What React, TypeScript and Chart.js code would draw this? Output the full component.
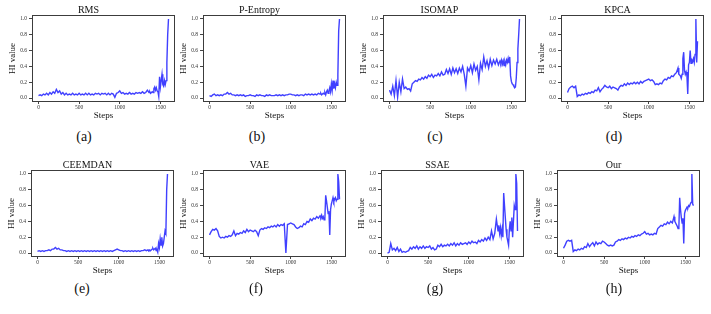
import React, { useEffect, useRef } from "react";
import { Chart, registerables } from "chart.js";

Chart.register(...registerables);

// Sample positions (steps); denser near the end where the curves change fast.
const STEPS = [
  0, 20, 40, 60, 80, 100, 120, 140, 160, 180,
  200, 220, 240, 260, 280, 300, 320, 340, 360, 380,
  400, 420, 440, 460, 480, 500, 520, 540, 560, 580,
  600, 620, 640, 660, 680, 700, 720, 740, 760, 780,
  800, 820, 840, 860, 880, 900, 920, 940, 960, 980,
  1000, 1020, 1040, 1060, 1080, 1100, 1120, 1140, 1160, 1180,
  1200, 1220, 1240, 1260, 1280, 1300, 1320, 1340, 1360,
  1370, 1380, 1390, 1400, 1410, 1420, 1430, 1440, 1450, 1460,
  1470, 1480, 1490, 1500, 1510, 1520, 1530, 1540, 1550, 1560,
  1570, 1580, 1590, 1600,
];

const RMS = [
  0.03, 0.04, 0.03, 0.05, 0.04, 0.06, 0.04, 0.07, 0.05, 0.08,
  0.06, 0.11, 0.07, 0.09, 0.05, 0.07, 0.04, 0.06, 0.04, 0.05,
  0.04, 0.06, 0.04, 0.05, 0.04, 0.06, 0.04, 0.05, 0.04, 0.06,
  0.04, 0.06, 0.04, 0.05, 0.04, 0.06, 0.05, 0.06, 0.04, 0.06,
  0.05, 0.06, 0.04, 0.06, 0.04, 0.06, 0.05, 0.01, 0.06, 0.07,
  0.09, 0.06, 0.07, 0.05, 0.06, 0.05, 0.07, 0.05, 0.06, 0.05,
  0.07, 0.06, 0.07, 0.06, 0.08, 0.06, 0.07, 0.10, 0.07,
  0.08, 0.06, 0.07, 0.08, 0.07, 0.12, 0.14, 0.10, 0.13, 0.09,
  0.08, 0.02, 0.27, 0.14, 0.22, 0.30, 0.17, 0.15, 0.22, 0.17,
  0.22, 0.45, 0.80, 1.0,
];

const P_ENTROPY = [
  0.03, 0.02, 0.04, 0.05, 0.03, 0.04, 0.03, 0.04, 0.03, 0.05,
  0.05, 0.07, 0.05, 0.06, 0.04, 0.04, 0.03, 0.04, 0.03, 0.04,
  0.03, 0.04, 0.02, 0.03, 0.03, 0.04, 0.03, 0.03, 0.02, 0.04,
  0.03, 0.04, 0.03, 0.03, 0.02, 0.04, 0.03, 0.04, 0.03, 0.03,
  0.03, 0.04, 0.03, 0.04, 0.03, 0.04, 0.03, 0.04, 0.04, 0.05,
  0.05, 0.04, 0.04, 0.03, 0.04, 0.03, 0.04, 0.04, 0.03, 0.05,
  0.04, 0.05, 0.04, 0.05, 0.04, 0.05, 0.04, 0.06, 0.05,
  0.06, 0.04, 0.05, 0.06, 0.05, 0.07, 0.04, 0.08, 0.10, 0.06,
  0.09, 0.13, 0.08, 0.18, 0.10, 0.22, 0.12, 0.18, 0.13, 0.20,
  0.16, 0.30, 0.85, 1.0,
];

const ISOMAP = [
  0.10, 0.05, 0.15, 0.03, 0.22, 0.01, 0.20, 0.08, 0.24, 0.12,
  0.14, 0.11, 0.12, 0.09, 0.18, 0.20, 0.22, 0.21, 0.24, 0.23,
  0.26, 0.24, 0.27, 0.25, 0.29, 0.27, 0.30, 0.26, 0.29, 0.28,
  0.31, 0.28, 0.33, 0.29, 0.30, 0.36, 0.31, 0.37, 0.30, 0.38,
  0.32, 0.37, 0.31, 0.38, 0.33, 0.40, 0.30, 0.15, 0.38, 0.34,
  0.41, 0.32, 0.43, 0.35, 0.40, 0.23, 0.44, 0.36, 0.52, 0.40,
  0.47, 0.38, 0.49, 0.41, 0.48, 0.43, 0.49, 0.42, 0.47,
  0.44, 0.48, 0.43, 0.47, 0.41, 0.46, 0.42, 0.48, 0.45, 0.50,
  0.44, 0.52, 0.28, 0.21, 0.18, 0.17, 0.15, 0.13, 0.14, 0.25,
  0.45, 0.62, 0.80, 1.0,
];

const KPCA = [
  0.07, 0.12, 0.14, 0.15, 0.13, 0.15, 0.02, 0.04, 0.03, 0.05,
  0.04, 0.06, 0.05, 0.07, 0.06, 0.08, 0.07, 0.10, 0.09, 0.13,
  0.08, 0.11, 0.13, 0.16, 0.14, 0.13, 0.15, 0.12, 0.14, 0.13,
  0.12, 0.10, 0.14, 0.16, 0.15, 0.18, 0.16, 0.19, 0.17, 0.19,
  0.18, 0.20, 0.18, 0.20, 0.18, 0.21, 0.19, 0.21, 0.22, 0.23,
  0.24, 0.22, 0.23, 0.21, 0.17, 0.18, 0.17, 0.19, 0.18, 0.22,
  0.24, 0.23, 0.26, 0.25, 0.28, 0.27, 0.30, 0.32, 0.38,
  0.30, 0.29, 0.28, 0.25, 0.30, 0.50, 0.58, 0.35, 0.30, 0.33,
  0.28, 0.05, 0.42, 0.45, 0.60, 0.44, 0.48, 0.46, 0.50, 0.45,
  0.55, 1.0, 0.45, 0.72,
];

const CEEMDAN = [
  0.02, 0.03, 0.02, 0.03, 0.02, 0.03, 0.03, 0.04, 0.03, 0.05,
  0.05, 0.07, 0.05, 0.06, 0.04, 0.04, 0.03, 0.03, 0.02, 0.03,
  0.02, 0.03, 0.02, 0.03, 0.02, 0.03, 0.02, 0.03, 0.02, 0.03,
  0.02, 0.03, 0.02, 0.03, 0.02, 0.03, 0.02, 0.03, 0.02, 0.03,
  0.02, 0.03, 0.02, 0.03, 0.02, 0.03, 0.02, 0.03, 0.04, 0.05,
  0.04, 0.03, 0.03, 0.02, 0.03, 0.02, 0.03, 0.02, 0.03, 0.02,
  0.03, 0.02, 0.03, 0.02, 0.03, 0.03, 0.04, 0.03, 0.04,
  0.03, 0.04, 0.03, 0.04, 0.05, 0.06, 0.04, 0.05, 0.06, 0.03,
  0.04, 0.01, 0.12, 0.07, 0.18, 0.10, 0.20, 0.09, 0.12, 0.20,
  0.28, 0.25, 0.80, 1.0,
];

const VAE = [
  0.23, 0.27, 0.30, 0.29, 0.31, 0.28, 0.21, 0.19, 0.20, 0.19,
  0.21, 0.20, 0.22, 0.21, 0.23, 0.28, 0.22, 0.25, 0.24, 0.26,
  0.25, 0.28, 0.26, 0.30, 0.27, 0.29, 0.28, 0.27, 0.29, 0.27,
  0.22, 0.29, 0.31, 0.30, 0.32, 0.31, 0.33, 0.32, 0.34, 0.33,
  0.35, 0.33, 0.36, 0.34, 0.36, 0.35, 0.37, 0.0, 0.36, 0.37,
  0.38, 0.37, 0.36, 0.33, 0.31, 0.32, 0.34, 0.33, 0.37, 0.36,
  0.40, 0.39, 0.43, 0.41, 0.44, 0.43, 0.46, 0.44, 0.47,
  0.45, 0.48, 0.44, 0.46, 0.42, 0.44, 0.73, 0.66, 0.58, 0.50,
  0.53, 0.23, 0.55, 0.62, 0.66, 0.70, 0.65, 0.68, 0.70, 0.66,
  0.68, 1.0, 0.90, 0.68,
];

const SSAE = [
  0.0, 0.01, 0.12, 0.04, 0.06, 0.03, 0.07, 0.02, 0.05, 0.01,
  0.02, 0.01, 0.02, 0.03, 0.07, 0.05, 0.08, 0.06, 0.09, 0.05,
  0.08, 0.06, 0.09, 0.06, 0.08, 0.07, 0.09, 0.05, 0.07, 0.04,
  0.05, 0.10, 0.08, 0.11, 0.08, 0.10, 0.09, 0.11, 0.09, 0.12,
  0.10, 0.13, 0.09, 0.12, 0.10, 0.13, 0.11, 0.12, 0.13, 0.11,
  0.14, 0.12, 0.15, 0.13, 0.14, 0.12, 0.16, 0.14, 0.17, 0.15,
  0.19, 0.16, 0.20, 0.17, 0.28, 0.18, 0.25, 0.43, 0.28,
  0.35, 0.25, 0.32, 0.22, 0.30, 0.20, 0.76, 0.60, 0.45, 0.30,
  0.20, 0.15, 0.10, 0.30, 0.40, 0.28, 0.45, 0.20, 0.40, 0.60,
  0.55, 1.0, 0.88, 0.28,
];

const OUR = [
  0.06, 0.10, 0.15, 0.16, 0.15, 0.16, 0.02, 0.04, 0.03, 0.05,
  0.04, 0.06, 0.05, 0.08, 0.07, 0.12, 0.08, 0.11, 0.13, 0.09,
  0.14, 0.11, 0.13, 0.12, 0.15, 0.14, 0.12, 0.10, 0.09, 0.10,
  0.09, 0.10, 0.14, 0.15, 0.17, 0.16, 0.18, 0.17, 0.19, 0.18,
  0.20, 0.19, 0.21, 0.20, 0.22, 0.21, 0.23, 0.22, 0.24, 0.25,
  0.27, 0.24, 0.25, 0.23, 0.24, 0.23, 0.25, 0.24, 0.31, 0.33,
  0.35, 0.34, 0.37, 0.36, 0.39, 0.37, 0.40, 0.38, 0.46,
  0.40, 0.38, 0.36, 0.34, 0.31, 0.33, 0.70, 0.55, 0.45, 0.38,
  0.44, 0.12, 0.50, 0.54, 0.56, 0.58, 0.57, 0.60, 0.59, 0.62,
  0.64, 1.0, 0.62, 0.60,
];

const X_TICKS = [0, 500, 1000, 1500];
const Y_TICKS = [0, 0.2, 0.4, 0.6, 0.8, 1.0];

const TITLES = ["RMS", "P-Entropy", "ISOMAP", "KPCA", "CEEMDAN", "VAE", "SSAE", "Our"];
const CAPTIONS = ["(a)", "(b)", "(c)", "(d)", "(e)", "(f)", "(g)", "(h)"];
const SERIES = [RMS, P_ENTROPY, ISOMAP, KPCA, CEEMDAN, VAE, SSAE, OUR];

// Layout (pixels)
const FRAME_LEFT = [32, 203, 383, 561, 31, 203, 381, 557];
const ROW_FRAME_TOP = [15, 170];
const FRAME_W = 143;
const FRAME_H = 87;
const Y_AXIS_W = 30;
const X_AXIS_H = 22;
const TITLE_H = 14;
const RIGHT_PAD = 3;
const CAPTION_X = [84, 257, 435, 614, 82, 256, 435, 614];
const CAPTION_Y = [137, 289];

const SERIF = "'Liberation Serif', 'Times New Roman', serif";
const LINE_COLOR = "rgba(30, 30, 255, 0.85)";

const framePlugin = {
  id: "frameBox",
  afterDraw(chart: any) {
    const { ctx, chartArea: a } = chart;
    ctx.save();
    ctx.strokeStyle = "#3c3c3c";
    ctx.lineWidth = 1;
    ctx.strokeRect(
      Math.round(a.left) + 0.5,
      Math.round(a.top) + 0.5,
      Math.round(a.right - a.left) - 1,
      Math.round(a.bottom - a.top) - 1
    );
    ctx.restore();
  },
};

function Panel({ index }: { index: number }) {
  const ref = useRef<HTMLCanvasElement | null>(null);
  const row = index < 4 ? 0 : 1;
  const left = FRAME_LEFT[index] - Y_AXIS_W;
  const top = ROW_FRAME_TOP[row] - TITLE_H;
  const width = Y_AXIS_W + FRAME_W + RIGHT_PAD;
  const height = TITLE_H + FRAME_H + X_AXIS_H;

  useEffect(() => {
    if (!ref.current) return;
    const values = SERIES[index];
    const chart = new Chart(ref.current, {
      type: "line",
      data: {
        datasets: [
          {
            data: STEPS.map((s, i) => ({ x: s, y: values[i] })),
            borderColor: LINE_COLOR,
            borderWidth: 1.4,
            pointRadius: 0,
            tension: 0,
            fill: false,
          },
        ],
      },
      options: {
        responsive: false,
        animation: false,
        events: [],
        layout: { padding: { left: 0, right: RIGHT_PAD, top: 0, bottom: 0 } },
        plugins: {
          legend: { display: false },
          tooltip: { enabled: false },
          title: {
            display: true,
            text: TITLES[index],
            color: "#111",
            font: { family: SERIF, size: 10, lineHeight: 1, weight: "normal" },
            padding: { top: 4, bottom: 0 },
          },
        },
        scales: {
          x: {
            type: "linear",
            min: -80,
            max: 1680,
            afterBuildTicks: (s: any) => {
              s.ticks = X_TICKS.map((v) => ({ value: v }));
            },
            afterFit: (s: any) => {
              s.height = X_AXIS_H;
            },
            ticks: {
              font: { family: SERIF, size: 5.5 },
              color: "#333",
              padding: 0,
              maxRotation: 0,
              autoSkip: false,
              callback: (v: any) => String(v),
            },
            grid: { display: true, drawOnChartArea: false, tickLength: 2, color: "#444" },
            border: { display: false },
            title: {
              display: true,
              text: "Steps",
              color: "#111",
              font: { family: SERIF, size: 9, lineHeight: 1.2 },
              padding: { top: 0, bottom: 2.6 },
            },
          },
          y: {
            type: "linear",
            min: -0.05,
            max: 1.05,
            afterBuildTicks: (s: any) => {
              s.ticks = Y_TICKS.map((v) => ({ value: v }));
            },
            afterFit: (s: any) => {
              s.width = Y_AXIS_W;
            },
            ticks: {
              font: { family: SERIF, size: 5.5 },
              color: "#333",
              padding: 2,
              callback: (v: any) => Number(v).toFixed(1),
            },
            grid: { display: true, drawOnChartArea: false, tickLength: 3, color: "#444" },
            border: { display: false },
            title: {
              display: true,
              text: "HI value",
              color: "#111",
              font: { family: SERIF, size: 9, lineHeight: 1.2 },
              padding: { top: 5.6, bottom: 0 },
            },
          },
        },
      },
      plugins: [framePlugin],
    } as any);
    return () => chart.destroy();
  }, [index]);

  return (
    <canvas
      ref={ref}
      width={width}
      height={height}
      style={{ position: "absolute", left, top, width, height }}
    />
  );
}

export default function App() {
  return (
    <div
      style={{
        position: "absolute",
        left: 0,
        top: 0,
        width: 711,
        height: 314,
        background: "#fff",
        overflow: "hidden",
      }}
    >
      {TITLES.map((_, i) => (
        <Panel key={i} index={i} />
      ))}
      {CAPTIONS.map((c, i) => (
        <div
          key={c}
          style={{
            position: "absolute",
            left: CAPTION_X[i],
            top: CAPTION_Y[i < 4 ? 0 : 1],
            transform: "translate(-50%, -50%)",
            fontFamily: SERIF,
            fontSize: 14,
            color: "#111",
            lineHeight: 1,
            whiteSpace: "nowrap",
          }}
        >
          {c}
        </div>
      ))}
    </div>
  );
}
